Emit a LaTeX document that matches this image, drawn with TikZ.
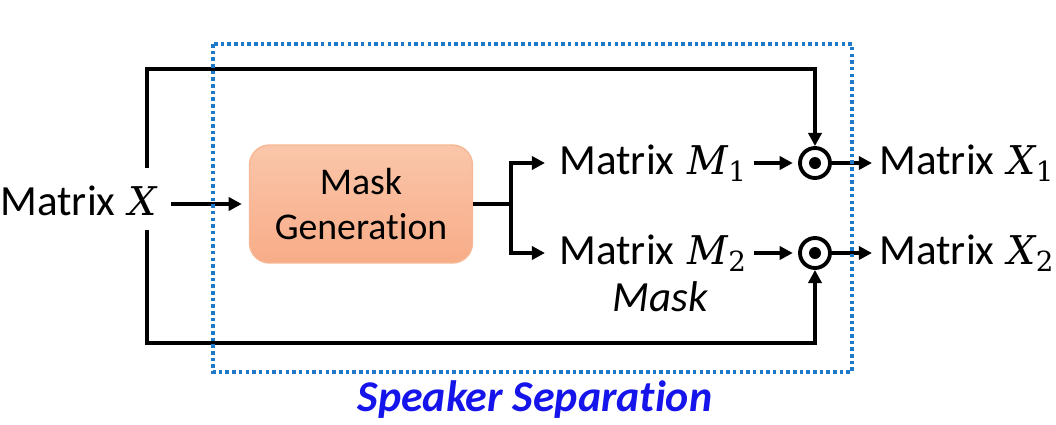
\documentclass[tikz,border=0pt]{standalone}
\usepackage{fontspec}
\setmainfont{Carlito}[Ligatures=CommonOff]
\newfontfamily\varfont{DejaVu Serif}[Scale=0.92]
\usetikzlibrary{arrows.meta}

\definecolor{sepblue}{RGB}{31,120,200}
\definecolor{titleblue}{RGB}{20,20,235}
\definecolor{boxtop}{RGB}{250,198,170}
\definecolor{boxbot}{RGB}{248,172,136}
\definecolor{boxline}{RGB}{246,184,148}

\newcommand{\mvar}[2]{\hspace{2pt}{\varfont\itshape #1}\textsubscript{\varfont #2}}

\tikzset{
    lbl/.style={font=\fontsize{24.5}{29}\selectfont},
    genbox/.style={rounded corners=0.4cm, top color=boxtop, bottom color=boxbot,
        draw=boxline, line width=0.8pt, minimum width=4.46cm, minimum height=2.36cm,
        align=center, font=\fontsize{21.5}{26}\selectfont},
    odot/.style={circle, draw, line width=2.2pt, minimum size=0.6cm, inner sep=0pt,
        path picture={\fill (path picture bounding box.center) circle (0.12cm);}},
    arr/.style={-{Triangle[length=7.5pt,width=7.5pt]}},
    sepbox/.style={draw=sepblue, line width=2.1pt, dash pattern=on 2pt off 1.8pt}
}

\begin{document}
\begin{tikzpicture}[x=0.02cm, y=-0.02cm, line width=1.9pt]
                \useasboundingbox (0, 0) rectangle (1056, 424);

                \node[lbl, anchor=west] (matX) at (-7, 204) {Matrix \mvar{X}{}};

                \node[genbox] (maskgen) at (361, 204) {Mask\\Generation};

                \coordinate (split) at (511, 204);

                \node[lbl, anchor=west] (m1) at (552, 163) {Matrix \mvar{M}{1}};

                \node[lbl, anchor=west] (m2) at (552, 253) {Matrix \mvar{M}{2}};

                \node[lbl] (masklbl) at (660, 297) {\itshape Mask};

                \node[odot] (prod1) at (815, 163) {};

                \node[odot] (prod2) at (815, 253) {};

                \node[lbl, anchor=west] (x1) at (872, 163) {Matrix \mvar{X}{1}};

                \node[lbl, anchor=west] (x2) at (872, 253) {Matrix \mvar{X}{2}};

                \draw[arr, shorten <=3pt, shorten >=4pt] (matX) -- (maskgen);

                \draw (maskgen) -- (split);

                \draw[arr, shorten >=4pt] (split) |- (m1);

                \draw[arr, shorten >=4pt] (split) |- (m2);

                \draw[arr, shorten >=3pt] (m1) -- (prod1);

                \draw[arr, shorten >=3pt] (m2) -- (prod2);

                \draw[arr] (prod1) -- (x1);

                \draw[arr] (prod2) -- (x2);

                % bypass of X round the mask generator
                \coordinate (tapU) at (147, 168);
                \coordinate (tapD) at (147, 230);
                \coordinate (topL) at (147, 69);
                \coordinate (botL) at (147, 343);

                \draw[arr] (tapU) -- (topL) -| (prod1);

                \draw[arr] (tapD) -- (botL) -| (prod2);

                \draw[sepbox] (213, 44) rectangle (852, 372);

                \node[font=\fontsize{25}{30}\selectfont\bfseries\itshape, text=titleblue] (septitle) at (535, 400) {Speaker Separation};
            \end{tikzpicture}
\end{document}
